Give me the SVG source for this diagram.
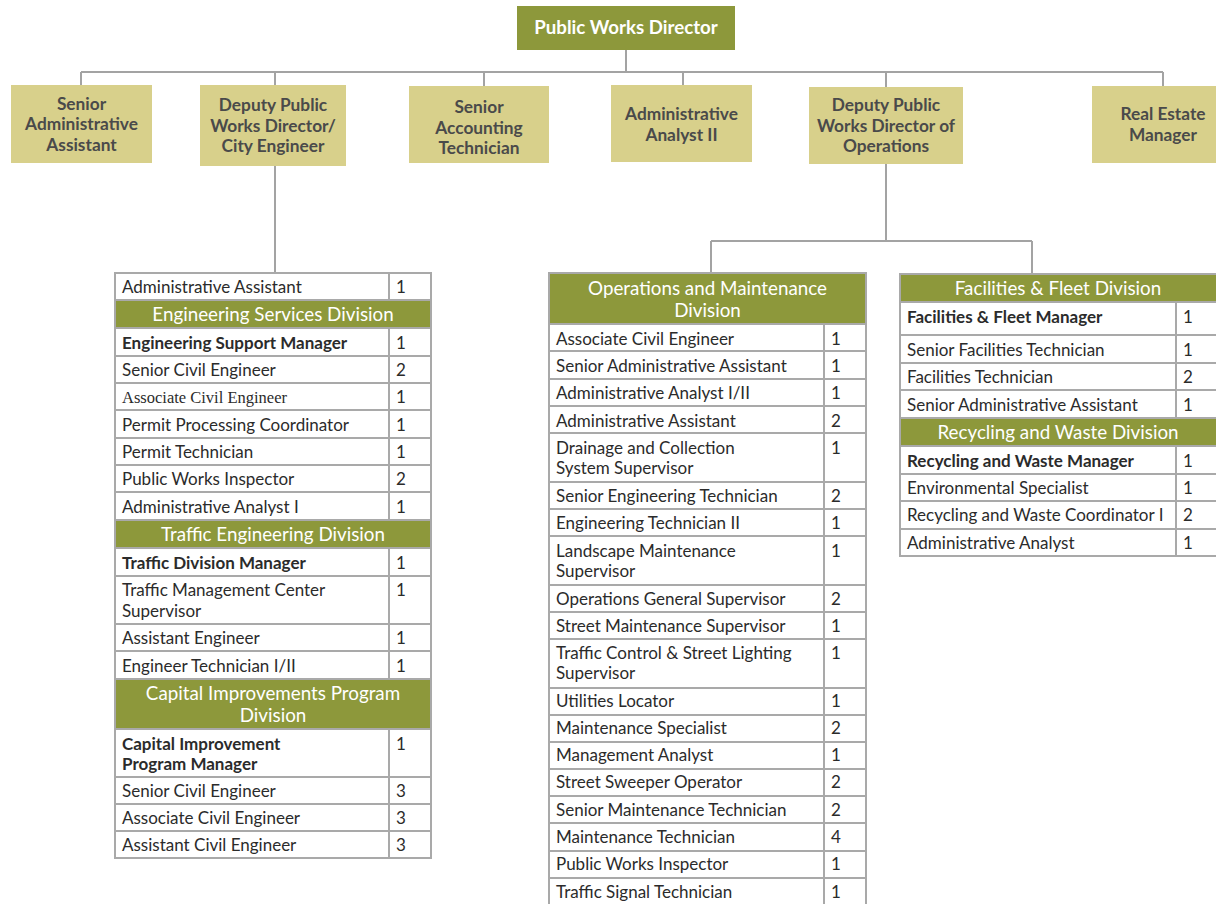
<svg xmlns="http://www.w3.org/2000/svg" width="1216" height="904" viewBox="0 0 1216 904">
<style>
.bg{fill:#ffffff}
.top{fill:#8d983b}
.box{fill:#d8d08b}
.bt{font-family:Lato,"Liberation Sans",sans-serif;font-weight:700;font-size:17.3px;fill:#4a4a4a;text-anchor:middle}
.tt{font-family:Lato,"Liberation Sans",sans-serif;font-weight:700;font-size:18.7px;fill:#ffffff;text-anchor:middle}
.cell{fill:#ffffff;stroke:#a9a9a9;stroke-width:2}
.hdr{fill:#8d983b;stroke:#a9a9a9;stroke-width:2}
.t{font-family:Lato,"Liberation Sans",sans-serif;font-size:17px;fill:#2b2b2b}
.b{font-weight:700}
.s{font-family:"Liberation Serif",serif;font-size:16.5px}
.h{font-family:Lato,"Liberation Sans",sans-serif;font-size:18.8px;fill:#ffffff;text-anchor:middle}
.ln{fill:none;stroke:#a3a3a3;stroke-width:2}
</style>
<rect class="bg" x="0" y="0" width="1216" height="904"/>
<g id="connectors">
<path class="ln" d="M626 50V72M81 72H1163M81 72V85M275 72V85M484 72V86M683 72V85M886 72V87M1163 72V86"/>
<path class="ln" d="M275 166V273"/>
<path class="ln" d="M886 164V241M711 241H1032M711 241V273M1032 241V274"/>
</g>
<g id="n-director">
<rect class="top" x="517" y="6" width="218" height="44"/>
<text class="tt" x="626" y="34">Public Works Director</text>
</g>
<g id="n-senior-admin">
<rect class="box" x="11" y="85" width="141" height="78"/>
<text class="bt" x="81.5" y="110">Senior</text>
<text class="bt" x="81.5" y="130">Administrative</text>
<text class="bt" x="81.5" y="151">Assistant</text>
</g>
<g id="n-deputy-city">
<rect class="box" x="200" y="85" width="146" height="81"/>
<text class="bt" x="273" y="111">Deputy Public</text>
<text class="bt" x="273" y="132">Works Director/</text>
<text class="bt" x="273" y="152">City Engineer</text>
</g>
<g id="n-senior-accounting">
<rect class="box" x="409" y="86" width="140" height="77"/>
<text class="bt" x="479" y="113">Senior</text>
<text class="bt" x="479" y="134">Accounting</text>
<text class="bt" x="479" y="154">Technician</text>
</g>
<g id="n-admin-analyst">
<rect class="box" x="611" y="85" width="141" height="77"/>
<text class="bt" x="681.5" y="120">Administrative</text>
<text class="bt" x="681.5" y="141">Analyst II</text>
</g>
<g id="n-deputy-ops">
<rect class="box" x="809" y="87" width="154" height="77"/>
<text class="bt" x="886" y="111">Deputy Public</text>
<text class="bt" x="886" y="132">Works Director of</text>
<text class="bt" x="886" y="152">Operations</text>
</g>
<g id="n-real-estate">
<rect class="box" x="1092" y="86" width="142" height="77"/>
<text class="bt" x="1163" y="120">Real Estate</text>
<text class="bt" x="1163" y="141">Manager</text>
</g>
<g id="t-engineering">
<rect class="cell" x="115" y="273" width="274" height="27"/><rect class="cell" x="389" y="273" width="42" height="27"/>
<text class="t" x="122" y="293">Administrative Assistant</text><text class="t" x="396" y="293">1</text>
<rect class="hdr" x="115" y="300" width="316" height="28"/>
<text class="h" x="273" y="321">Engineering Services Division</text>
<rect class="cell" x="115" y="328" width="274" height="28"/><rect class="cell" x="389" y="328" width="42" height="28"/>
<text class="t b" x="122" y="349">Engineering Support Manager</text><text class="t" x="396" y="349">1</text>
<rect class="cell" x="115" y="356" width="274" height="27"/><rect class="cell" x="389" y="356" width="42" height="27"/>
<text class="t" x="122" y="376">Senior Civil Engineer</text><text class="t" x="396" y="376">2</text>
<rect class="cell" x="115" y="383" width="274" height="27"/><rect class="cell" x="389" y="383" width="42" height="27"/>
<text class="t s" x="122" y="403">Associate Civil Engineer</text><text class="t" x="396" y="403">1</text>
<rect class="cell" x="115" y="410" width="274" height="28"/><rect class="cell" x="389" y="410" width="42" height="28"/>
<text class="t" x="122" y="431">Permit Processing Coordinator</text><text class="t" x="396" y="431">1</text>
<rect class="cell" x="115" y="438" width="274" height="27"/><rect class="cell" x="389" y="438" width="42" height="27"/>
<text class="t" x="122" y="458">Permit Technician</text><text class="t" x="396" y="458">1</text>
<rect class="cell" x="115" y="465" width="274" height="27"/><rect class="cell" x="389" y="465" width="42" height="27"/>
<text class="t" x="122" y="485">Public Works Inspector</text><text class="t" x="396" y="485">2</text>
<rect class="cell" x="115" y="492" width="274" height="28"/><rect class="cell" x="389" y="492" width="42" height="28"/>
<text class="t" x="122" y="513">Administrative Analyst I</text><text class="t" x="396" y="513">1</text>
<rect class="hdr" x="115" y="520" width="316" height="28"/>
<text class="h" x="273" y="541">Traffic Engineering Division</text>
<rect class="cell" x="115" y="548" width="274" height="28"/><rect class="cell" x="389" y="548" width="42" height="28"/>
<text class="t b" x="122" y="569">Traffic Division Manager</text><text class="t" x="396" y="569">1</text>
<rect class="cell" x="115" y="576" width="274" height="48"/><rect class="cell" x="389" y="576" width="42" height="48"/>
<text class="t" x="122" y="596">Traffic Management Center</text><text class="t" x="122" y="617">Supervisor</text><text class="t" x="396" y="596">1</text>
<rect class="cell" x="115" y="624" width="274" height="27"/><rect class="cell" x="389" y="624" width="42" height="27"/>
<text class="t" x="122" y="644">Assistant Engineer</text><text class="t" x="396" y="644">1</text>
<rect class="cell" x="115" y="651" width="274" height="28"/><rect class="cell" x="389" y="651" width="42" height="28"/>
<text class="t" x="122" y="672">Engineer Technician I/II</text><text class="t" x="396" y="672">1</text>
<rect class="hdr" x="115" y="679" width="316" height="50"/>
<text class="h" x="273" y="700">Capital Improvements Program</text><text class="h" x="273" y="722">Division</text>
<rect class="cell" x="115" y="729" width="274" height="48"/><rect class="cell" x="389" y="729" width="42" height="48"/>
<text class="t b" x="122" y="750">Capital Improvement</text><text class="t b" x="122" y="770">Program Manager</text><text class="t" x="396" y="750">1</text>
<rect class="cell" x="115" y="777" width="274" height="27"/><rect class="cell" x="389" y="777" width="42" height="27"/>
<text class="t" x="122" y="797">Senior Civil Engineer</text><text class="t" x="396" y="797">3</text>
<rect class="cell" x="115" y="804" width="274" height="27"/><rect class="cell" x="389" y="804" width="42" height="27"/>
<text class="t" x="122" y="824">Associate Civil Engineer</text><text class="t" x="396" y="824">3</text>
<rect class="cell" x="115" y="831" width="274" height="27"/><rect class="cell" x="389" y="831" width="42" height="27"/>
<text class="t" x="122" y="851">Assistant Civil Engineer</text><text class="t" x="396" y="851">3</text>
</g>
<g id="t-operations">
<rect class="hdr" x="549" y="273" width="317" height="51"/>
<text class="h" x="707.5" y="295">Operations and Maintenance</text><text class="h" x="707.5" y="317">Division</text>
<rect class="cell" x="549" y="324" width="275" height="27"/><rect class="cell" x="824" y="324" width="42" height="27"/>
<text class="t" x="556" y="345">Associate Civil Engineer</text><text class="t" x="831" y="345">1</text>
<rect class="cell" x="549" y="351" width="275" height="28"/><rect class="cell" x="824" y="351" width="42" height="28"/>
<text class="t" x="556" y="372">Senior Administrative Assistant</text><text class="t" x="831" y="372">1</text>
<rect class="cell" x="549" y="379" width="275" height="27"/><rect class="cell" x="824" y="379" width="42" height="27"/>
<text class="t" x="556" y="399">Administrative Analyst I/II</text><text class="t" x="831" y="399">1</text>
<rect class="cell" x="549" y="406" width="275" height="27"/><rect class="cell" x="824" y="406" width="42" height="27"/>
<text class="t" x="556" y="427">Administrative Assistant</text><text class="t" x="831" y="427">2</text>
<rect class="cell" x="549" y="433" width="275" height="49"/><rect class="cell" x="824" y="433" width="42" height="49"/>
<text class="t" x="556" y="454">Drainage and Collection</text><text class="t" x="556" y="474">System Supervisor</text><text class="t" x="831" y="454">1</text>
<rect class="cell" x="549" y="482" width="275" height="27"/><rect class="cell" x="824" y="482" width="42" height="27"/>
<text class="t" x="556" y="502">Senior Engineering Technician</text><text class="t" x="831" y="502">2</text>
<rect class="cell" x="549" y="509" width="275" height="27"/><rect class="cell" x="824" y="509" width="42" height="27"/>
<text class="t" x="556" y="529">Engineering Technician II</text><text class="t" x="831" y="529">1</text>
<rect class="cell" x="549" y="536" width="275" height="49"/><rect class="cell" x="824" y="536" width="42" height="49"/>
<text class="t" x="556" y="557">Landscape Maintenance</text><text class="t" x="556" y="577">Supervisor</text><text class="t" x="831" y="557">1</text>
<rect class="cell" x="549" y="585" width="275" height="27"/><rect class="cell" x="824" y="585" width="42" height="27"/>
<text class="t" x="556" y="605">Operations General Supervisor</text><text class="t" x="831" y="605">2</text>
<rect class="cell" x="549" y="612" width="275" height="27"/><rect class="cell" x="824" y="612" width="42" height="27"/>
<text class="t" x="556" y="632">Street Maintenance Supervisor</text><text class="t" x="831" y="632">1</text>
<rect class="cell" x="549" y="639" width="275" height="49"/><rect class="cell" x="824" y="639" width="42" height="49"/>
<text class="t" x="556" y="659">Traffic Control &amp; Street Lighting</text><text class="t" x="556" y="679">Supervisor</text><text class="t" x="831" y="659">1</text>
<rect class="cell" x="549" y="688" width="275" height="27"/><rect class="cell" x="824" y="688" width="42" height="27"/>
<text class="t" x="556" y="707">Utilities Locator</text><text class="t" x="831" y="707">1</text>
<rect class="cell" x="549" y="715" width="275" height="27"/><rect class="cell" x="824" y="715" width="42" height="27"/>
<text class="t" x="556" y="734">Maintenance Specialist</text><text class="t" x="831" y="734">2</text>
<rect class="cell" x="549" y="742" width="275" height="27"/><rect class="cell" x="824" y="742" width="42" height="27"/>
<text class="t" x="556" y="761">Management Analyst</text><text class="t" x="831" y="761">1</text>
<rect class="cell" x="549" y="769" width="275" height="27"/><rect class="cell" x="824" y="769" width="42" height="27"/>
<text class="t" x="556" y="788">Street Sweeper Operator</text><text class="t" x="831" y="788">2</text>
<rect class="cell" x="549" y="796" width="275" height="27"/><rect class="cell" x="824" y="796" width="42" height="27"/>
<text class="t" x="556" y="816">Senior Maintenance Technician</text><text class="t" x="831" y="816">2</text>
<rect class="cell" x="549" y="823" width="275" height="28"/><rect class="cell" x="824" y="823" width="42" height="28"/>
<text class="t" x="556" y="843">Maintenance Technician</text><text class="t" x="831" y="843">4</text>
<rect class="cell" x="549" y="851" width="275" height="27"/><rect class="cell" x="824" y="851" width="42" height="27"/>
<text class="t" x="556" y="870">Public Works Inspector</text><text class="t" x="831" y="870">1</text>
<rect class="cell" x="549" y="878" width="275" height="28"/><rect class="cell" x="824" y="878" width="42" height="28"/>
<text class="t" x="556" y="898">Traffic Signal Technician</text><text class="t" x="831" y="898">1</text>
</g>
<g id="t-facilities">
<rect class="hdr" x="900" y="274" width="320" height="28"/>
<text class="h" x="1058" y="295">Facilities &amp; Fleet Division</text>
<rect class="cell" x="900" y="302" width="276" height="33"/><rect class="cell" x="1176" y="302" width="44" height="33"/>
<text class="t b" x="907" y="323">Facilities &amp; Fleet Manager</text><text class="t" x="1183" y="323">1</text>
<rect class="cell" x="900" y="335" width="276" height="28"/><rect class="cell" x="1176" y="335" width="44" height="28"/>
<text class="t" x="907" y="356">Senior Facilities Technician</text><text class="t" x="1183" y="356">1</text>
<rect class="cell" x="900" y="363" width="276" height="27"/><rect class="cell" x="1176" y="363" width="44" height="27"/>
<text class="t" x="907" y="383">Facilities Technician</text><text class="t" x="1183" y="383">2</text>
<rect class="cell" x="900" y="390" width="276" height="28"/><rect class="cell" x="1176" y="390" width="44" height="28"/>
<text class="t" x="907" y="411">Senior Administrative Assistant</text><text class="t" x="1183" y="411">1</text>
<rect class="hdr" x="900" y="418" width="320" height="28"/>
<text class="h" x="1058" y="439">Recycling and Waste Division</text>
<rect class="cell" x="900" y="446" width="276" height="28"/><rect class="cell" x="1176" y="446" width="44" height="28"/>
<text class="t b" x="907" y="467">Recycling and Waste Manager</text><text class="t" x="1183" y="467">1</text>
<rect class="cell" x="900" y="474" width="276" height="27"/><rect class="cell" x="1176" y="474" width="44" height="27"/>
<text class="t" x="907" y="494">Environmental Specialist</text><text class="t" x="1183" y="494">1</text>
<rect class="cell" x="900" y="501" width="276" height="28"/><rect class="cell" x="1176" y="501" width="44" height="28"/>
<text class="t" x="907" y="521">Recycling and Waste Coordinator I</text><text class="t" x="1183" y="521">2</text>
<rect class="cell" x="900" y="529" width="276" height="27"/><rect class="cell" x="1176" y="529" width="44" height="27"/>
<text class="t" x="907" y="549">Administrative Analyst</text><text class="t" x="1183" y="549">1</text>
</g>
</svg>
